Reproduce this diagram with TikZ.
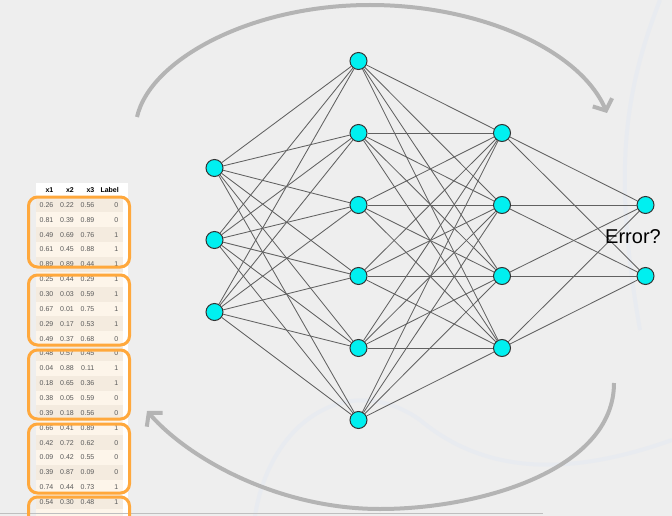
\documentclass[tikz,border=0pt]{standalone}
\usepackage{fontspec}
\setmainfont{Liberation Sans}
\usetikzlibrary{arrows.meta, positioning}
\definecolor{bggray}{RGB}{238,238,238}
\definecolor{loopgray}{RGB}{180,180,180}
\definecolor{neuroncyan}{RGB}{0,240,240}
\definecolor{boxorange}{RGB}{255,168,60}
\definecolor{rowdark}{RGB}{244,235,223}
\definecolor{rowlight}{RGB}{253,245,234}
\definecolor{swirl}{RGB}{232,235,240}
\definecolor{cellgray}{RGB}{90,90,90}
\tikzstyle{neuron} = [circle, minimum size=17pt, inner sep=0pt, draw=black!80, line width=1pt, fill=neuroncyan]
\tikzstyle{synapse} = [draw=black!62, line width=0.85pt]
\tikzstyle{trainarrow} = [draw=loopgray, line width=4pt, -{Straight Barb[length=9pt, width=21pt]}]
\tikzstyle{batch} = [draw=boxorange, line width=3pt, rounded corners=9pt]
\tikzstyle{cell} = [font=\fontsize{7}{8}\selectfont, text=cellgray, anchor=east, inner sep=0pt]
\tikzstyle{head} = [font=\fontsize{7}{8}\selectfont\bfseries, anchor=east, inner sep=0pt]
\tikzstyle{swirly} = [draw=swirl, line width=4pt]

\begin{document}
\begin{tikzpicture}[x=1pt, y=-1pt]
	\useasboundingbox[fill=bggray] (0,0) rectangle (672,516);
	% faint background strokes
	\draw[swirly] (660,0) .. controls (625,90) and (612,170) .. (640,330);
	\draw[swirly] (255,516) .. controls (270,420) and (350,370) .. (420,420) .. controls (480,470) and (560,480) .. (672,440);

	% data table
	\fill[white] (36,183) rectangle (128,516);
	\fill[rowlight] (36,197.6) rectangle (123,516);
	\foreach \i in {1,3,...,21}
		\fill[rowdark] (36,{205+14.85*(\i-1)-7.42}) rectangle (123,{205+14.85*(\i-1)+7.42});
	\draw[black!25, line width=0.8pt] (0,513) -- (543,513);
	\node (hx1) [head] at (53.5,190) {x1};
	\node (hx2) [head] at (74,190) {x2};
	\node (hx3) [head] at (94.5,190) {x3};
	\node (hlabel) [head] at (119,190) {Label};
	\foreach \a/\b/\c/\l [count=\i] in {0.26/0.22/0.56/0, 0.81/0.39/0.89/0, 0.49/0.69/0.76/1, 0.61/0.45/0.88/1, 0.89/0.89/0.44/1,
		0.25/0.44/0.29/1, 0.30/0.03/0.59/1, 0.67/0.01/0.75/1, 0.29/0.17/0.53/1, 0.49/0.37/0.68/0,
		0.48/0.57/0.45/0, 0.04/0.88/0.11/1, 0.18/0.65/0.36/1, 0.38/0.05/0.59/0, 0.39/0.18/0.56/0,
		0.66/0.41/0.89/1, 0.42/0.72/0.62/0, 0.09/0.42/0.55/0, 0.39/0.87/0.09/0, 0.74/0.44/0.73/1,
		0.54/0.30/0.48/1} {
		\node (xa\i) [cell] at (53.5,{205+14.85*(\i-1)}) {\a};
		\node (xb\i) [cell] at (74,{205+14.85*(\i-1)}) {\b};
		\node (xc\i) [cell] at (94.5,{205+14.85*(\i-1)}) {\c};
		\node (lab\i) [cell] at (118.5,{205+14.85*(\i-1)}) {\l};
	}
	% mini-batches
	\draw[batch] (28.5,197) rectangle (129.5,267);
	\draw[batch] (28.5,275) rectangle (129.5,345);
	\draw[batch] (28.5,350) rectangle (129.5,419);
	\draw[batch] (28.5,424) rectangle (129.5,493);
	\draw[batch] (28.5,497) rectangle (129.5,545);

	% network
	\foreach \y [count=\i] in {168,240,312}
		\node (input\i) [neuron] at (214.5,\y) {};
	\foreach \y [count=\i] in {61,133,205,276,348,420}
		\node (hidA\i) [neuron] at (358.5,\y) {};
	\foreach \y [count=\i] in {133,205,276,348}
		\node (hidB\i) [neuron] at (502,\y) {};
	\foreach \y [count=\i] in {205,276}
		\node (output\i) [neuron] at (645.5,\y) {};
	\foreach \i in {1,2,3}
		\foreach \j in {1,...,6}
			\draw [synapse] (input\i) -- (hidA\j);
	\foreach \i in {1,...,6}
		\foreach \j in {1,...,4}
			\draw [synapse] (hidA\i) -- (hidB\j);
	\foreach \i in {1,...,4}
		\foreach \j in {1,2}
			\draw [synapse] (hidB\i) -- (output\j);
	\node (error) [font=\fontsize{20}{22}\selectfont, inner sep=0pt] at (633,237) {Error?};

	% training loop
	\coordinate (fwdstart) at (137,117);
	\coordinate (fwdend) at (607,113);
	\coordinate (backstart) at (614,383);
	\coordinate (backend) at (147,411);
	\draw [trainarrow] (fwdstart) .. controls (150,60) and (250,5) .. (370,5) .. controls (480,5) and (580,50) .. (fwdend);
	\draw [trainarrow] (backstart) .. controls (614,470) and (480,509) .. (380,509) .. controls (280,509) and (190,460) .. (backend);
\end{tikzpicture}
\end{document}
